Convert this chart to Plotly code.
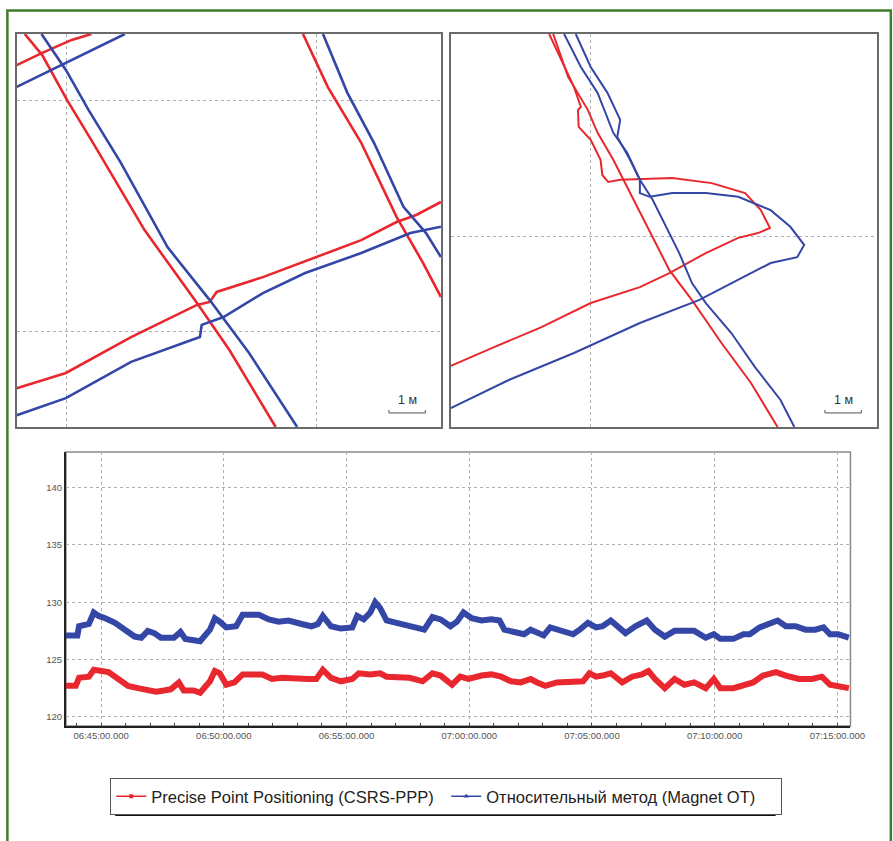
import plotly.graph_objects as go

W, H = 893, 841
RED = "#e8282e"
BLUE = "#3446a6"

# ---------------- Top-left map: local coordinates, metres (None = break between passes)
tl_red_x = [0.22, 0.70, 1.38, 2.16, 3.51, 4.95, 5.84, 7.11, None,
            7.86, 8.54, 9.46, 10.43, 11.16, 11.65, None,
            0.0, 1.35, 3.14, 4.95, 5.30, 5.49, 6.76, 8.19, 9.46, 10.43, 10.97, 11.65, None,
            0.0, 0.70, 1.51, 2.05]
tl_red_y = [10.62, 10.05, 8.84, 7.57, 5.32, 3.35, 2.08, 0.0, None,
            10.62, 9.19, 7.68, 5.68, 4.43, 3.51, None,
            1.05, 1.46, 2.43, 3.30, 3.38, 3.65, 4.05, 4.59, 5.05, 5.54, 5.73, 6.08, None,
            9.78, 10.11, 10.46, 10.62]
tl_blue_x = [0.68, 1.35, 1.97, 2.86, 4.14, 5.30, 6.38, 7.70, None,
             8.41, 9.08, 9.81, 10.62, 11.24, 11.65, None,
             0.0, 1.35, 3.14, 5.03, 5.08, 5.68, 6.76, 7.92, 9.46, 10.81, 11.65, None,
             0.0, 1.35, 2.24, 2.97]
tl_blue_y = [10.62, 9.65, 8.57, 7.14, 4.86, 3.43, 2.00, 0.0, None,
             10.62, 9.03, 7.68, 5.95, 5.24, 4.59, None,
             0.32, 0.78, 1.76, 2.43, 2.76, 2.97, 3.62, 4.16, 4.70, 5.24, 5.41, None,
             9.19, 9.84, 10.27, 10.62]

# ---------------- Top-right map
tr_red_x = [2.70, 3.03, 3.38, 3.57, 3.49, 3.51, 3.84, 4.11, 4.16, 4.32, 4.65, 6.08, 7.16, 8.08,
            8.51, 8.76, 8.43, 7.89, 7.00, 6.00, 5.19, 3.84, 2.49, 1.14, 0.0, None,
            2.81, 3.22, 3.76, 4.03, 4.46, 4.84, 5.11, 5.54, 6.00, 6.62, 7.43, 8.24, 8.97]
tr_red_y = [10.62, 9.92, 9.19, 8.65, 8.57, 8.11, 7.76, 7.22, 6.81, 6.62, 6.68, 6.73, 6.59, 6.32,
            5.86, 5.38, 5.24, 5.11, 4.70, 4.16, 3.78, 3.35, 2.70, 2.14, 1.65, None,
            10.62, 9.46, 8.57, 7.95, 7.22, 6.49, 5.95, 5.14, 4.24, 3.43, 2.27, 1.19, 0.0]
tr_blue_x = [3.43, 3.84, 4.30, 4.65, 4.57, 4.92, 5.19, 5.19, 5.46, 6.08, 7.00, 7.89, 8.78, 9.32,
             9.70, 9.51, 8.78, 7.89, 6.81, 5.19, 3.38, 1.59, 0.0, None,
             3.11, 3.57, 4.03, 4.46, 4.84, 5.19, 5.54, 5.92, 6.27, 6.62, 7.00, 7.70, 8.35, 9.05, 9.43]
tr_blue_y = [10.62, 9.73, 9.03, 8.30, 7.84, 7.22, 6.68, 6.32, 6.22, 6.32, 6.32, 6.22, 5.86, 5.41,
             4.92, 4.59, 4.43, 3.97, 3.43, 2.81, 2.00, 1.27, 0.51, None,
             10.62, 9.73, 9.03, 7.95, 7.41, 6.68, 6.14, 5.41, 4.70, 3.89, 3.35, 2.54, 1.62, 0.73, 0.0]

# ---------------- Bottom time series (height, m)
blue_t = ["06:43:34", "06:44:02", "06:44:06", "06:44:30", "06:44:42", "06:44:54", "06:45:10",
          "06:45:34", "06:45:58", "06:46:22", "06:46:38", "06:46:54", "06:47:10", "06:47:26",
          "06:47:58", "06:48:14", "06:48:26", "06:48:46", "06:49:02", "06:49:26", "06:49:38",
          "06:49:50", "06:50:06", "06:50:30", "06:50:46", "06:51:26", "06:51:50", "06:52:14",
          "06:52:38", "06:53:10", "06:53:34", "06:53:50", "06:54:02", "06:54:22", "06:54:46",
          "06:55:14", "06:55:26", "06:55:42", "06:55:58", "06:56:10", "06:56:22", "06:56:38",
          "06:57:02", "06:57:26", "06:57:50", "06:58:10", "06:58:30", "06:58:50", "06:59:14",
          "06:59:30", "06:59:46", "07:00:06", "07:00:30", "07:00:54", "07:01:14", "07:01:26",
          "07:01:50", "07:02:14", "07:02:30", "07:02:46", "07:03:02", "07:03:18", "07:03:42",
          "07:04:14", "07:04:30", "07:04:50", "07:05:10", "07:05:26", "07:05:46", "07:06:06",
          "07:06:22", "07:06:46", "07:07:14", "07:07:34", "07:07:58", "07:08:22", "07:08:46",
          "07:09:10", "07:09:38", "07:09:58", "07:10:14", "07:10:46", "07:11:10", "07:11:26",
          "07:11:50", "07:12:14", "07:12:34", "07:12:54", "07:13:18", "07:13:42", "07:14:06",
          "07:14:26", "07:14:42", "07:15:02", "07:15:28"]
blue_v = [127.1, 127.1, 127.9, 128.1, 129.1, 128.8, 128.6,
          128.2, 127.6, 127.0, 126.9, 127.5, 127.3, 126.9,
          126.9, 127.4, 126.8, 126.75, 126.6, 127.6, 128.6,
          128.3, 127.8, 127.9, 128.9, 128.9, 128.5, 128.3,
          128.4, 128.1, 127.9, 128.1, 128.8, 127.9, 127.7,
          127.8, 128.8, 128.5, 129.1, 130.0, 129.5, 128.4,
          128.2, 127.9, 127.8, 127.6, 128.7, 128.5, 127.9,
          128.3, 129.1, 128.6, 128.4, 128.5, 128.4, 127.6,
          127.4, 127.2, 127.6, 127.3, 127.1, 127.8, 127.6,
          127.2, 127.6, 128.2, 127.8, 127.9, 128.4, 127.8,
          127.3, 127.9, 128.4, 127.6, 127.0, 127.5, 127.5,
          127.5, 126.9, 127.2, 126.8, 126.8, 127.2, 127.2,
          127.8, 128.1, 128.4, 127.9, 127.9, 127.6, 127.6,
          127.8, 127.2, 127.2, 126.9]
red_t = ["06:43:34", "06:43:58", "06:44:06", "06:44:30", "06:44:42", "06:44:54", "06:45:18",
         "06:45:42", "06:46:06", "06:46:30", "06:46:54", "06:47:14", "06:47:34", "06:47:50",
         "06:48:10", "06:48:22", "06:48:46", "06:49:02", "06:49:26", "06:49:38", "06:49:50",
         "06:50:06", "06:50:26", "06:50:46", "06:51:34", "06:51:58", "06:52:22", "06:52:54",
         "06:53:26", "06:53:46", "06:54:02", "06:54:22", "06:54:46", "06:55:14", "06:55:30",
         "06:55:58", "06:56:22", "06:56:38", "06:57:10", "06:57:34", "06:58:06", "06:58:30",
         "06:58:50", "06:59:18", "06:59:38", "06:59:58", "07:00:30", "07:00:54", "07:01:18",
         "07:01:42", "07:02:06", "07:02:30", "07:02:46", "07:03:06", "07:03:34", "07:04:14",
         "07:04:38", "07:04:54", "07:05:10", "07:05:26", "07:05:46", "07:06:14", "07:06:38",
         "07:07:02", "07:07:18", "07:07:34", "07:07:58", "07:08:22", "07:08:46", "07:09:10",
         "07:09:38", "07:09:58", "07:10:14", "07:10:46", "07:11:10", "07:11:34", "07:11:58",
         "07:12:30", "07:12:54", "07:13:26", "07:13:58", "07:14:22", "07:14:42", "07:15:02",
         "07:15:28"]
red_v = [122.7, 122.7, 123.4, 123.5, 124.1, 124.0, 123.9,
         123.3, 122.7, 122.5, 122.4, 122.2, 122.3, 122.4,
         123.0, 122.3, 122.3, 122.1, 123.1, 124.0, 123.8,
         122.8, 123.0, 123.7, 123.7, 123.3, 123.4, 123.3,
         123.3, 123.3, 124.1, 123.4, 123.1, 123.3, 123.8,
         123.7, 123.8, 123.5, 123.4, 123.4, 123.1, 123.8,
         123.6, 122.8, 123.5, 123.3, 123.6, 123.7, 123.5,
         123.1, 123.0, 123.3, 123.0, 122.7, 123.0, 123.0,
         123.1, 123.8, 123.5, 123.6, 123.8, 123.0, 123.5,
         123.7, 124.0, 123.3, 122.5, 123.3, 122.8, 123.0,
         122.5, 123.3, 122.5, 122.5, 122.7, 123.0, 123.6,
         123.9, 123.6, 123.3, 123.3, 123.5, 122.8, 122.7,
         122.5]

y_ticks = [120, 125, 130, 135, 140]
x_tick_labels = ["06:45:00", "06:50:00", "06:55:00", "07:00:00", "07:05:00", "07:10:00", "07:15:00"]
series_names = ["Precise Point Positioning (CSRS-PPP)", "Относительный метод (Magnet OT)"]
scale_label = "1 м"

DAY = "2021-01-01 "
def ts(lst):
    return [DAY + s for s in lst]

# ---------------- layout helpers (pixel -> paper)
def px_x(p):
    return p / W
def px_y(p):
    return 1 - p / H

fig = go.Figure()

# top-left
fig.add_trace(go.Scatter(x=tl_red_x, y=tl_red_y, mode="lines", line=dict(color=RED, width=2.6),
                         xaxis="x", yaxis="y", showlegend=False, connectgaps=False))
fig.add_trace(go.Scatter(x=tl_blue_x, y=tl_blue_y, mode="lines", line=dict(color=BLUE, width=2.6),
                         xaxis="x", yaxis="y", showlegend=False, connectgaps=False))
# top-right
fig.add_trace(go.Scatter(x=tr_red_x, y=tr_red_y, mode="lines", line=dict(color=RED, width=2),
                         xaxis="x2", yaxis="y2", showlegend=False, connectgaps=False))
fig.add_trace(go.Scatter(x=tr_blue_x, y=tr_blue_y, mode="lines", line=dict(color=BLUE, width=2),
                         xaxis="x2", yaxis="y2", showlegend=False, connectgaps=False))
# bottom
fig.add_trace(go.Scatter(x=ts(blue_t), y=blue_v, mode="lines", line=dict(color=BLUE, width=6),
                         xaxis="x3", yaxis="y3", showlegend=False))
fig.add_trace(go.Scatter(x=ts(red_t), y=red_v, mode="lines", line=dict(color=RED, width=6),
                         xaxis="x3", yaxis="y3", showlegend=False))
# legend entries
fig.add_trace(go.Scatter(x=[None], y=[None], mode="lines+markers", name=series_names[0],
                         line=dict(color=RED, width=1.5), marker=dict(symbol="square", size=4, color=RED),
                         xaxis="x3", yaxis="y3"))
fig.add_trace(go.Scatter(x=[None], y=[None], mode="lines+markers", name=series_names[1],
                         line=dict(color=BLUE, width=1.5), marker=dict(symbol="triangle-up", size=5, color=BLUE),
                         xaxis="x3", yaxis="y3"))

grid = dict(showgrid=True, gridcolor="#b0b0b0", griddash="dot", gridwidth=1, zeroline=False,
            showticklabels=False, ticks="", showline=True, linecolor="#6a6a6a", linewidth=1.5,
            mirror=True, fixedrange=True)

tl_x_range = [0, 11.65]
tr_x_range = [0, 11.70]
map_y_range = [0, 10.62]

fig.update_layout(
    width=W, height=H, margin=dict(l=0, r=0, t=0, b=0),
    paper_bgcolor="white", plot_bgcolor="white",
    font=dict(family="Liberation Sans, Arial, sans-serif", color="#444"),
    xaxis=dict(domain=[px_x(17), px_x(448)], range=tl_x_range, tickvals=[1.38, 8.24], anchor="y", **grid),
    yaxis=dict(domain=[px_y(427), px_y(34)], range=map_y_range, tickvals=[2.57, 8.81], anchor="x", **grid),
    xaxis2=dict(domain=[px_x(458), px_x(891)], range=tr_x_range, tickvals=[3.84], anchor="y2", **grid),
    yaxis2=dict(domain=[px_y(427), px_y(34)], range=map_y_range, tickvals=[5.16], anchor="x2", **grid),
    xaxis3=dict(domain=[px_x(67), px_x(864)], anchor="y3", type="date",
                range=[DAY + "06:43:34", DAY + "07:15:32"],
                tickvals=ts(x_tick_labels), tickformat="%H:%M:%S.%L",
                tickfont=dict(size=9.5, color="#555"),
                showgrid=True, gridcolor="#b0b0b0", griddash="dot", gridwidth=1,
                showline=True, linecolor="#222", linewidth=2, ticks="", zeroline=False,
                minor=dict(ticks="inside", ticklen=3, tickcolor="#444", dtick=60000, showgrid=False),
                fixedrange=True),
    yaxis3=dict(domain=[px_y(726), px_y(452)], anchor="x3", range=[119.2, 143.1],
                tickvals=y_ticks, tickfont=dict(size=9.5, color="#555"),
                showgrid=True, gridcolor="#b0b0b0", griddash="dot", gridwidth=1,
                showline=True, linecolor="#222", linewidth=2, ticks="", zeroline=False,
                fixedrange=True),
    legend=dict(orientation="h", x=px_x(112), y=px_y(778), xanchor="left", yanchor="top",
                bgcolor="white", bordercolor="#555", borderwidth=1,
                font=dict(size=16.5, color="#222", family="Liberation Sans, Arial, sans-serif"),
                itemwidth=30, tracegroupgap=0, entrywidth=290, entrywidthmode="pixels"),
)

shapes = []
# green outer frame
shapes.append(dict(type="rect", xref="paper", yref="paper", x0=px_x(7.5), x1=px_x(905),
                   y0=px_y(860), y1=px_y(10.5), line=dict(color="#3f7c2a", width=2.5)))
# bottom panel light frame
shapes.append(dict(type="rect", xref="x3 domain", yref="y3 domain", x0=0, x1=1, y0=0, y1=1,
                   line=dict(color="#8a8a8a", width=1.5), layer="below"))
# legend shadow
shapes.append(dict(type="rect", xref="paper", yref="paper", x0=px_x(117), x1=px_x(788),
                   y0=px_y(816), y1=px_y(783), fillcolor="#111", line=dict(width=0), layer="below"))

# 1 m scale bars (drawn in data units: exactly one metre long)
annotations = []
for xr, yr, xrng in (("x", "y", tl_x_range), ("x2", "y2", tr_x_range)):
    x0 = xrng[1] - 1.43
    x1 = x0 + 1.0
    yb = 0.38
    shapes.append(dict(type="path", xref=xr, yref=yr,
                       path=f"M {x0},{yb + 0.08} L {x0},{yb} L {x1},{yb} L {x1},{yb + 0.08}",
                       line=dict(color="#555", width=1)))
    annotations.append(dict(x=(x0 + x1) / 2, y=yb + 0.12, xref=xr, yref=yr, text=scale_label,
                            showarrow=False, yanchor="bottom",
                            font=dict(size=12.5, color="#333", family="Liberation Sans, Arial, sans-serif")))

fig.update_layout(shapes=shapes, annotations=annotations)
fig.write_html("out.html", config={"displayModeBar": False},
               post_script="document.body.style.margin='0';document.body.style.overflow='hidden';")
